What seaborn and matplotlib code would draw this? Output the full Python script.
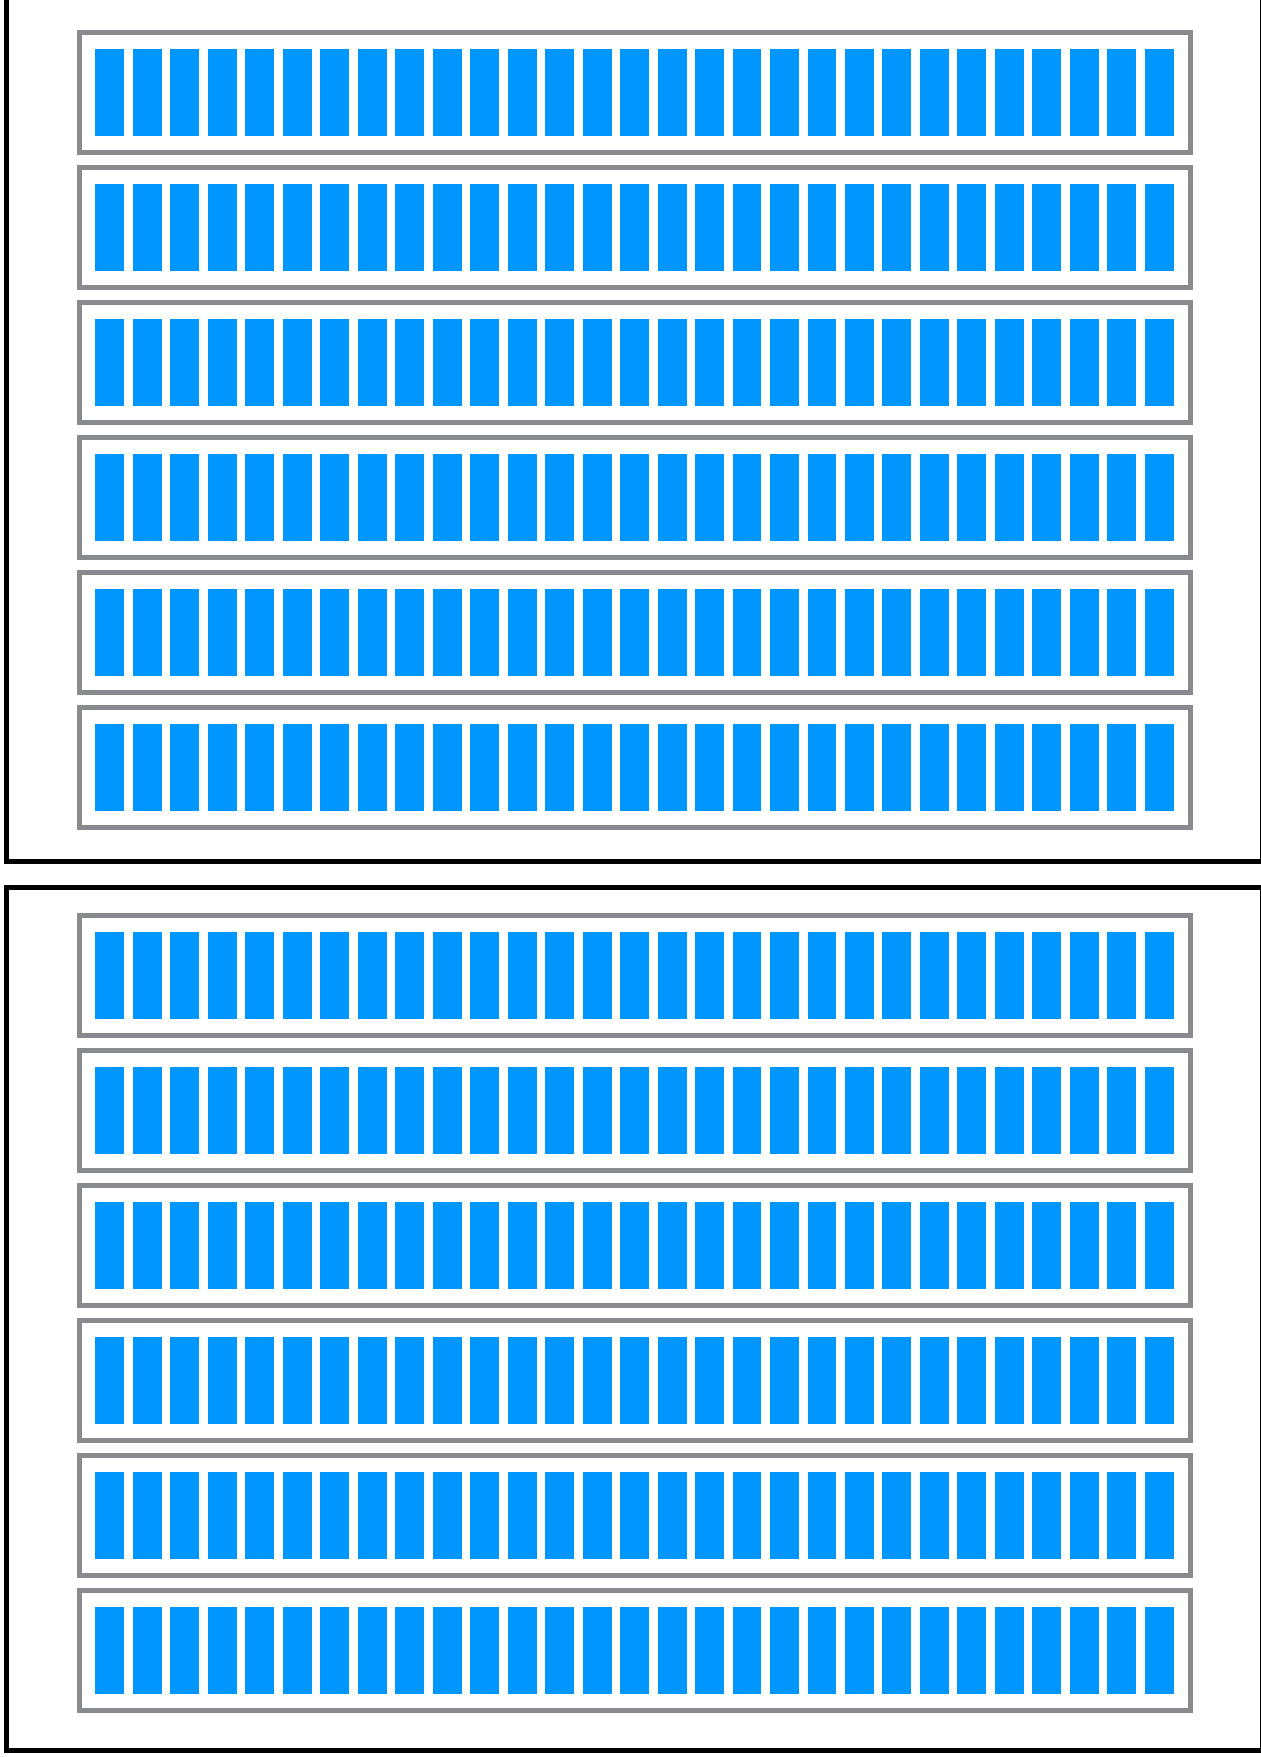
import matplotlib
matplotlib.use("Agg")
import matplotlib.pyplot as plt
import seaborn as sns
import pandas as pd

# chart data
panels = ["panel 1", "panel 2"]
rows = ["row 1", "row 2", "row 3", "row 4", "row 5", "row 6"]
slots = list(range(29))
slot_values = [1, 1, 1, 1, 1, 1, 1, 1, 1, 1, 1, 1, 1, 1, 1,
               1, 1, 1, 1, 1, 1, 1, 1, 1, 1, 1, 1, 1, 1]

BLUE = "#0096ff"
GREY = "#888a8d"
W, H = 1261, 1757
DPI = 100

sns.set_style("white")
fig = plt.figure(figsize=(W / DPI, H / DPI), dpi=DPI)
px = 72 / DPI  # points per pixel


def add_px_axes(x0, y0, x1, y1, zorder):
    """axes from pixel box (top-left origin)"""
    return fig.add_axes([x0 / W, 1 - y1 / H, (x1 - x0) / W, (y1 - y0) / H], zorder=zorder)


def frame(ax, color, lw_px):
    ax.set_xticks([])
    ax.set_yticks([])
    ax.set_xlabel("")
    ax.set_ylabel("")
    for s in ax.spines.values():
        s.set_visible(True)
        s.set_color(color)
        s.set_linewidth(lw_px * px)


panel_boxes = [(5.8, -2.5, 1261.5, 860.5), (5.8, 886.5, 1261.5, 1749.5)]
row_offsets = [31.8, 914.8]

df = pd.DataFrame({"slot": slots, "value": slot_values})

for p, (x0, y0, x1, y1) in enumerate(panel_boxes):
    pax = add_px_axes(x0, y0, x1, y1, zorder=0)
    frame(pax, "black", 5)
    for r, row in enumerate(rows):
        top = row_offsets[p] + r * 135
        ax = add_px_axes(78.5, top, 1189.8, top + 120, zorder=2)
        sns.barplot(data=df, x="slot", y="value", color=BLUE, saturation=1,
                    width=0.773, errorbar=None, linewidth=0, ax=ax)
        ax.set_xlim(-0.83, 28.81)
        ax.set_ylim(-0.182, 1.198)
        frame(ax, GREY, 5)

fig.savefig("out.png", dpi=DPI)
